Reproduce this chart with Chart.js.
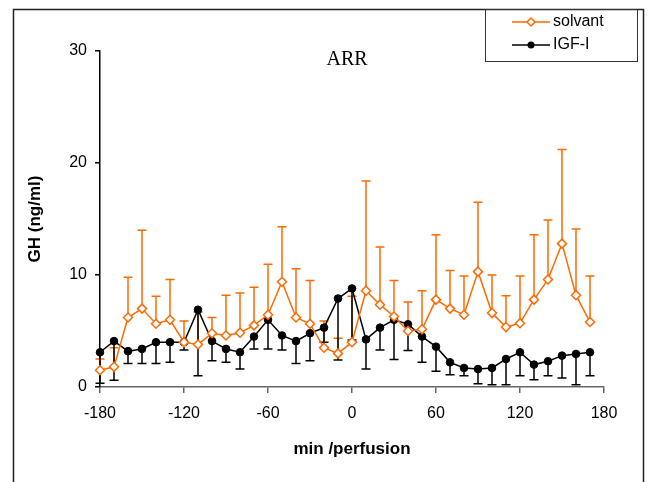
<!DOCTYPE html>
<html>
<head>
<meta charset="utf-8">
<script src="https://cdn.jsdelivr.net/npm/chart.js@4.4.0/dist/chart.umd.min.js"></script>
<style>
  body { margin: 0; background: #fff; }
</style>
</head>
<body>
<canvas id="chart" width="650" height="482"></canvas>
<script>
// time in minutes relative to perfusion
const minutes = [-180, -170, -160, -150, -140, -130, -120, -110, -100, -90, -80, -70, -60, -50, -40, -30, -20, -10,
                 0, 10, 20, 30, 40, 50, 60, 70, 80, 90, 100, 110, 120, 130, 140, 150, 160, 170];

// GH (ng/ml), solvant group and top of its error bar
const solvant   = [1.5, 1.8, 6.2, 7.0, 5.65, 6.0, 4.0, 3.8, 4.8, 4.6, 4.85, 5.5, 6.45, 9.4, 6.2, 5.65, 3.5, 3.0,
                   4.0, 8.6, 7.35, 6.3, 5.0, 5.15, 7.8, 7.0, 6.45, 10.3, 6.6, 5.35, 5.7, 7.8, 9.6, 12.8, 8.2, 5.8];
const solvantUp = [2.5, 3.5, 9.8, 14.0, 8.1, 9.6, 5.9, 6.7, 6.2, 8.2, 8.4, 8.9, 10.95, 14.3, 10.55, 9.5, 5.9, 4.35,
                   8.1, 18.4, 12.5, 9.5, 7.6, 8.6, 13.6, 10.4, 9.9, 16.5, 10.0, 8.15, 9.9, 13.6, 14.9, 21.2, 14.1, 9.9];

// GH (ng/ml), IGF-I group and bottom of its error bar
const igf    = [3.1, 4.1, 3.2, 3.4, 4.0, 4.0, 4.0, 6.9, 4.1, 3.4, 3.1, 4.5, 6.0, 4.6, 4.1, 4.8, 5.3, 7.9,
                8.8, 4.25, 5.3, 6.0, 5.6, 4.5, 3.6, 2.2, 1.7, 1.6, 1.7, 2.5, 3.1, 2.0, 2.3, 2.8, 2.95, 3.1];
const igfLow = [0.33, 0.6, 2.1, 2.1, 2.1, 2.2, 3.3, 1.0, 2.35, 2.2, 1.6, 3.4, 3.4, 3.3, 2.1, 2.35, 4.0, 2.4,
                4.2, 1.6, 3.3, 2.45, 3.25, 2.2, 1.4, 1.1, 1.0, 0.3, 0.2, 0.2, 1.0, 0.65, 1.0, 0.8, 0.2, 1.0];

const xTicks = [-180, -120, -60, 0, 60, 120, 180];
const yTicks = [0, 10, 20, 30];

const ORANGE = '#ff6a00';
const FONT = 'Liberation Sans, Arial, sans-serif';

// vertical error bars with caps, one-sided like the original figure
const errorBars = {
  id: 'errorBars',
  beforeDatasetsDraw(chart) {
    const ctx = chart.ctx;
    const xs = chart.scales.x, ys = chart.scales.y;
    const sets = [
      { mean: solvant, end: solvantUp, color: ORANGE },
      { mean: igf, end: igfLow, color: '#000' }
    ];
    ctx.save();
    ctx.lineWidth = 1.5;
    sets.forEach(s => {
      ctx.strokeStyle = s.color;
      minutes.forEach((m, i) => {
        const px = xs.getPixelForValue(m);
        const y0 = ys.getPixelForValue(s.mean[i]);
        const y1 = ys.getPixelForValue(s.end[i]);
        ctx.beginPath();
        ctx.moveTo(px, y0);
        ctx.lineTo(px, y1);
        ctx.moveTo(px - 4.5, y1);
        ctx.lineTo(px + 4.5, y1);
        ctx.stroke();
      });
    });
    ctx.restore();
  }
};

// outer frame, "ARR" label and the boxed legend
const decorations = {
  id: 'decorations',
  afterDraw(chart) {
    const ctx = chart.ctx;
    ctx.save();
    ctx.strokeStyle = '#222';
    ctx.lineWidth = 1.5;
    ctx.beginPath();
    ctx.moveTo(13.5, 500);
    ctx.lineTo(13.5, 9.5);
    ctx.lineTo(643.5, 9.5);
    ctx.lineTo(643.5, 500);
    ctx.stroke();

    ctx.fillStyle = '#000';
    ctx.font = '20px "Liberation Serif", "Times New Roman", serif';
    ctx.textAlign = 'center';
    ctx.textBaseline = 'middle';
    ctx.fillText('ARR', 347, 60);

    ctx.lineWidth = 1;
    ctx.strokeStyle = '#333';
    ctx.strokeRect(485.5, 9.5, 152, 52);

    const rows = [
      { label: 'solvant', color: ORANGE, y: 22, diamond: true },
      { label: 'IGF-I', color: '#000', y: 45, diamond: false }
    ];
    rows.forEach(r => {
      ctx.strokeStyle = r.color;
      ctx.lineWidth = 1.5;
      ctx.beginPath();
      ctx.moveTo(512, r.y);
      ctx.lineTo(550, r.y);
      ctx.stroke();
      ctx.beginPath();
      if (r.diamond) {
        ctx.moveTo(531, r.y - 4);
        ctx.lineTo(535, r.y);
        ctx.lineTo(531, r.y + 4);
        ctx.lineTo(527, r.y);
        ctx.closePath();
        ctx.fillStyle = '#fff';
        ctx.fill();
        ctx.stroke();
      } else {
        ctx.arc(531, r.y, 3.5, 0, Math.PI * 2);
        ctx.fillStyle = '#000';
        ctx.fill();
      }
      ctx.fillStyle = '#000';
      ctx.font = '16px ' + FONT;
      ctx.textAlign = 'left';
      ctx.textBaseline = 'middle';
      ctx.fillText(r.label, 553, r.y);
    });
    ctx.restore();
  }
};

new Chart(document.getElementById('chart'), {
  type: 'line',
  data: {
    datasets: [
      {
        label: 'solvant',
        data: minutes.map((m, i) => ({ x: m, y: solvant[i] })),
        borderColor: ORANGE,
        borderWidth: 1.5,
        pointStyle: 'rectRot',
        pointRadius: 4.5,
        pointBorderWidth: 1.5,
        pointBackgroundColor: '#fff',
        pointBorderColor: ORANGE,
        clip: false
      },
      {
        label: 'IGF-I',
        data: minutes.map((m, i) => ({ x: m, y: igf[i] })),
        borderColor: '#000',
        borderWidth: 1.5,
        pointStyle: 'circle',
        pointRadius: 3.8,
        pointBorderWidth: 1,
        pointBackgroundColor: '#000',
        pointBorderColor: '#000',
        clip: false
      }
    ]
  },
  options: {
    responsive: false,
    animation: false,
    devicePixelRatio: 1,
    layout: { padding: { left: 14, right: 46, top: 51, bottom: 0 } },
    plugins: {
      legend: { display: false },
      tooltip: { enabled: false }
    },
    scales: {
      x: {
        type: 'linear',
        min: -180,
        max: 180,
        afterBuildTicks: s => { s.ticks = xTicks.map(v => ({ value: v })); },
        afterFit: s => { s.height = 95; },
        ticks: { color: '#000', font: { family: FONT, size: 16 }, padding: 11, maxRotation: 0 },
        grid: { drawOnChartArea: false, tickLength: 6, color: '#666', lineWidth: 1.5 },
        border: { color: '#666', width: 1.5 },
        title: {
          display: true, text: 'min /perfusion', color: '#000',
          font: { family: FONT, size: 17, weight: 'bold' },
          padding: { top: 0, bottom: 22 }
        }
      },
      y: {
        min: 0,
        max: 30,
        afterBuildTicks: s => { s.ticks = yTicks.map(v => ({ value: v })); },
        afterFit: s => { s.width = 86; },
        ticks: { color: '#000', font: { family: FONT, size: 16 }, padding: 8 },
        grid: { drawOnChartArea: false, tickLength: 5, color: '#000', lineWidth: 1.5 },
        border: { color: '#000', width: 1.5 },
        title: {
          display: true, text: 'GH (ng/ml)', color: '#000',
          font: { family: FONT, size: 17, weight: 'bold' },
          padding: { top: 11, bottom: 0 }
        }
      }
    }
  },
  plugins: [errorBars, decorations]
});
</script>
</body>
</html>
